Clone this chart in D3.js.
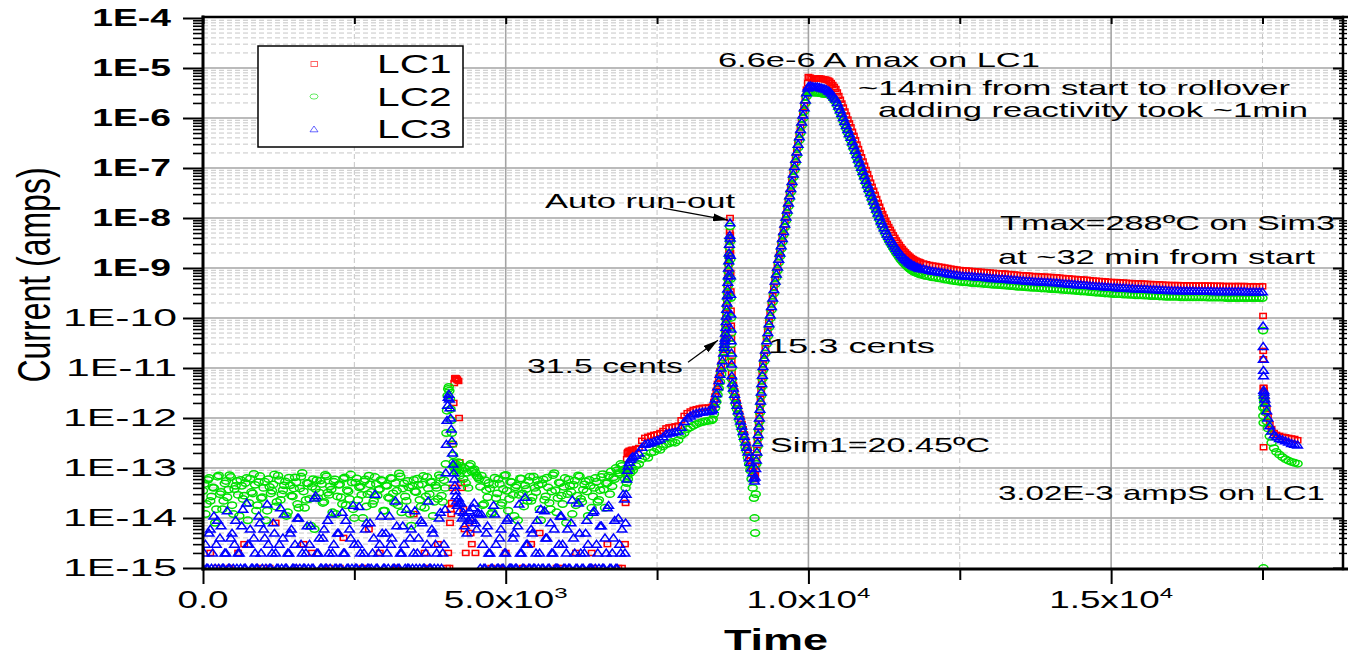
<!DOCTYPE html>
<html>
<head>
<meta charset="utf-8">
<title>Linear channel currents vs time</title>
<script src="https://cdn.jsdelivr.net/npm/d3@7/dist/d3.min.js"></script>
<style>
  html, body { margin: 0; padding: 0; background: #fff; }
  svg { display: block; }
  text { font-family: "Liberation Sans", Arial, Helvetica, sans-serif; fill: #000; }
</style>
</head>
<body>
<svg id="chart" width="1348" height="658"></svg>
<script>
// Logged samples, one row per reading: [time (s), LC1 (A), LC2 (A), LC3 (A)].
// Readings below 1E-15 A fall under the axis floor and are clipped away.

// quiet background before the first transient
const quietStart = [
  [0,5e-16,3.5e-14,1e-15],[40,5e-16,1.2e-14,3e-15],[80,5e-16,5.8e-14,1e-15],[120,2e-15,2.2e-14,6e-15],[160,5e-16,4.1e-14,2e-15],
  [200,5e-16,8e-15,1e-15],[240,5e-16,6.7e-14,9e-15],[280,5e-16,3e-14,4e-15],[320,5e-16,1.5e-14,1e-15],[360,5e-16,4.9e-14,2e-15],
  [400,5e-16,2.6e-14,1.4e-14],[440,1e-15,7.2e-14,1e-15],[480,5e-16,1.8e-14,5e-15],[520,5e-16,3.8e-14,3e-15],[560,5e-16,5.5e-14,1e-15],
  [600,5e-16,1.1e-14,2e-15],[640,5e-16,4.4e-14,7e-15],[680,3e-15,2.8e-14,1e-15],[720,5e-16,6.3e-14,2e-14],[760,5e-16,2e-14,3e-15],
  [800,5e-16,3.3e-14,1e-15],[840,5e-16,7.6e-14,4e-15],[880,5e-16,1.4e-14,1e-15],[920,5e-16,5.2e-14,1.1e-14],[960,1e-15,2.5e-14,2e-15],
  [1000,5e-16,4e-14,6e-15],[1040,5e-16,9e-15,1e-15],[1080,5e-16,6e-14,3e-15],[1120,5e-16,3.1e-14,1e-15],[1160,5e-16,4.7e-14,8e-15],
  [1200,8e-15,1.7e-14,2e-15],[1240,5e-16,7e-14,1e-15],[1280,5e-16,2.3e-14,1.6e-14],[1320,5e-16,3.6e-14,4e-15],[1360,5e-16,5.4e-14,1e-15],
  [1400,5e-16,1.3e-14,2e-15],[1440,5e-16,4.5e-14,5e-15],[1480,5e-16,2.7e-14,1e-15],[1520,1e-15,6.5e-14,3e-15],[1560,5e-16,1.9e-14,1e-14],
  [1600,5e-16,3.9e-14,1e-15],[1640,5e-16,8e-14,2e-15],[1680,5e-16,1.6e-14,1e-15],[1720,5e-16,5e-14,7e-15],[1760,5e-16,2.4e-14,3e-15],
  [1800,2e-15,4.2e-14,1e-15],[1840,5e-16,6e-15,2.5e-14],[1880,5e-16,5.7e-14,2e-15],[1920,5e-16,3.2e-14,4e-15],[1960,5e-16,4.8e-14,1e-15],
  [2000,5e-16,2.1e-14,6e-15],[2040,5e-16,6.8e-14,1e-15],[2080,1e-15,2.9e-14,2e-15],[2120,5e-16,3.7e-14,1.2e-14],[2160,5e-16,5.3e-14,3e-15],
  [2200,5e-16,1.2e-14,1e-15],[2240,5e-16,4.6e-14,5e-15],[2280,5e-16,2.6e-14,1e-15],[2320,4e-15,6.1e-14,2e-15],[2360,5e-16,1.8e-14,9e-15],
  [2400,5e-16,3.4e-14,1e-15],[2440,5e-16,7.4e-14,4e-15],[2480,5e-16,1.5e-14,1.8e-14],[2520,5e-16,5.1e-14,1e-15],[2560,5e-16,2.3e-14,3e-15],
  [2600,5e-16,4.3e-14,2e-15],[2640,1e-15,1e-14,1e-15],[2680,5e-16,5.9e-14,6e-15],[2720,5e-16,3e-14,1e-15],[2760,5e-16,4.7e-14,8e-15],
  [2800,5e-16,1.9e-14,2e-15],[2840,5e-16,6.6e-14,3e-14],[2880,5e-16,2.8e-14,1e-15],[2920,2e-15,3.8e-14,3e-15],[2960,5e-16,5.6e-14,5e-15],
  [3000,5e-16,1.4e-14,1e-15],[3040,5e-16,4.4e-14,2e-15],[3080,5e-16,2.5e-14,1.1e-14],[3120,5e-16,6.2e-14,4e-15],[3160,5e-16,2e-14,1e-15],
  [3200,1e-15,3.5e-14,7e-15],[3240,5e-16,7.8e-14,1e-15],[3280,5e-16,1.3e-14,2e-15],[3320,5e-16,4.9e-14,3e-15],[3360,5e-16,2.2e-14,1.5e-14],
  [3400,5e-16,4.1e-14,1e-15],[3440,5e-16,7e-15,6e-15],[3480,1.2e-14,5.8e-14,2e-15],[3520,5e-16,3.3e-14,1e-15],[3560,5e-16,4.6e-14,4e-15],
  [3600,5e-16,1.7e-14,9e-15],[3640,5e-16,6.9e-14,1e-15],[3680,5e-16,2.7e-14,2e-15],[3720,1e-15,3.9e-14,2.2e-14],[3760,5e-16,5.2e-14,1e-15],
  [3800,5e-16,1.1e-14,5e-15],[3840,5e-16,4.5e-14,3e-15],[3880,3e-15,2.4e-14,1e-15],[3920,5e-16,6.4e-14,1.3e-14],[3960,5e-16,2.1e-14,2e-15],
  [20,5e-16,4.8e-14,2e-15],[60,5e-16,1.9e-14,1e-15],[100,5e-16,6.3e-14,5e-15],[140,5e-16,2.7e-14,1e-15],[180,5e-16,4e-14,1.1e-14],
  [220,1e-15,1.5e-14,3e-15],[260,5e-16,7.1e-14,1e-15],[300,5e-16,3.3e-14,7e-15],[340,5e-16,2.2e-14,1e-15],[380,5e-16,5.5e-14,2e-15],
  [420,5e-16,3.7e-14,1e-15],[460,5e-16,6.6e-14,4e-15],[500,5e-16,1.2e-14,1e-15],[540,5e-16,4.4e-14,9e-15],[580,2e-15,2.9e-14,2e-15],
  [620,5e-16,5.8e-14,1e-15],[660,5e-16,2.4e-14,1.5e-14],[700,5e-16,5e-14,1e-15],[740,5e-16,9e-15,3e-15],[780,5e-16,6.1e-14,6e-15],
  [820,5e-16,3.1e-14,1e-15],[860,5e-16,4.6e-14,2e-15],[900,5e-16,1.8e-14,1e-15],[940,5e-16,6.9e-14,8e-15],[980,5e-16,2.6e-14,1e-15],
  [1020,5e-16,5.3e-14,4e-15],[1060,5e-16,1.4e-14,1.9e-14],[1100,1e-15,4.2e-14,1e-15],[1140,5e-16,3.5e-14,2e-15],[1180,5e-16,7.4e-14,5e-15],
  [1220,5e-16,2.1e-14,1e-15],[1260,5e-16,5.7e-14,3e-15],[1300,5e-16,3e-14,1e-15],[1340,5e-16,4.5e-14,1.2e-14],[1380,5e-16,1.1e-14,1e-15],
  [1420,5e-16,6.4e-14,2e-15],[1460,5e-16,2.8e-14,6e-15],[1500,5e-16,3.9e-14,1e-15],[1540,5e-16,5.2e-14,1e-15],[1580,5e-16,1.6e-14,1e-14],
  [1620,5e-16,6.7e-14,3e-15],[1660,3e-15,3.4e-14,1e-15],[1700,5e-16,2.3e-14,2e-15],[1740,5e-16,4.9e-14,1e-15],[1780,5e-16,7e-15,7e-15],
  [1820,5e-16,6e-14,1e-15],[1860,5e-16,3.8e-14,2.8e-14],[1900,5e-16,2.5e-14,2e-15],[1940,5e-16,5.6e-14,1e-15],[1980,5e-16,2e-14,4e-15],
  [2020,5e-16,7.3e-14,1e-15],[2060,5e-16,3.2e-14,9e-15],[2100,5e-16,4.3e-14,1e-15],[2140,5e-16,1.3e-14,2e-15],[2180,5e-16,5.9e-14,1e-15],
  [2220,5e-16,2.7e-14,5e-15],[2260,1e-15,4.7e-14,1e-15],[2300,5e-16,1.9e-14,1.3e-14],[2340,5e-16,6.5e-14,2e-15],[2380,5e-16,3.6e-14,1e-15],
  [2420,5e-16,2.4e-14,6e-15],[2460,5e-16,5.1e-14,1e-15],[2500,5e-16,1e-14,3e-15],[2540,5e-16,6.2e-14,1e-15],[2580,5e-16,4.1e-14,1.7e-14],
  [2620,5e-16,2.9e-14,1e-15],[2660,5e-16,5.4e-14,2e-15],[2700,5e-16,1.7e-14,8e-15],[2740,6e-15,7e-14,1e-15],[2780,5e-16,3.3e-14,1e-15],
  [2820,5e-16,2.2e-14,4e-15],[2860,5e-16,4.8e-14,1e-15],[2900,5e-16,3.7e-14,2e-15],[2940,5e-16,5.8e-14,1.1e-14],[2980,5e-16,1.4e-14,1e-15],
  [3020,5e-16,4.5e-14,5e-15],[3060,5e-16,2.6e-14,1e-15],[3100,5e-16,6.3e-14,3e-15],[3140,5e-16,3.1e-14,1e-15],[3180,1e-15,5e-14,2.2e-14],
  [3220,5e-16,1.8e-14,1e-15],[3260,5e-16,6.8e-14,2e-15],[3300,5e-16,3.9e-14,7e-15],[3340,5e-16,2.7e-14,1e-15],[3380,5e-16,5.5e-14,1e-15],
  [3420,5e-16,1.2e-14,4e-15],[3460,5e-16,4.4e-14,1e-15],[3500,5e-16,3.4e-14,1.4e-14],[3540,5e-16,6.1e-14,2e-15],[3580,5e-16,2.3e-14,1e-15],
  [3620,5e-16,4.7e-14,8e-15],[3660,2e-15,1.6e-14,1e-15],[3700,5e-16,6.6e-14,3e-15],[3740,5e-16,3e-14,1e-15],[3780,5e-16,5.3e-14,6e-15],
  [3820,5e-16,2.1e-14,1e-15],[3860,5e-16,4e-14,2e-15],[3900,5e-16,7.2e-14,1e-14],[3940,5e-16,2.8e-14,1e-15],[3980,5e-16,5.7e-14,3e-15]
];

// short transient near t = 4000 s
const firstTransient = [
  [4000,5e-16,4e-14,1.5e-14],[4010,5e-16,1.2e-13,8e-14],[4020,5e-16,5e-13,3e-13],[4030,1e-15,1.4e-12,9e-13],[4040,5e-16,2.8e-12,1.8e-12],
  [4050,2e-15,3.8e-12,2.6e-12],[4060,5e-16,4.2e-12,3e-12],[4070,1e-15,3.5e-12,2.4e-12],[4080,8e-15,2.4e-12,1.6e-12],[4090,1.5e-14,1.5e-12,1e-12],
  [4100,1.2e-14,9e-13,6e-13],[4110,2e-14,5e-13,3.5e-13],[4120,4e-14,3e-13,2e-13],[4130,3e-13,1.8e-13,1.2e-13],[4140,2e-12,1.3e-13,8e-14],
  [4150,5e-12,1e-13,6e-14],[4160,6.2e-12,1.1e-13,4.5e-14],[4170,6.3e-12,9e-14,3.5e-14],[4180,6.2e-12,1.2e-13,2.8e-14],[4190,6e-12,8e-14,2.2e-14],
  [4200,5.8e-12,1e-13,1.8e-14],[4220,5.5e-12,1.3e-13,2.5e-14],[4230,1e-12,9e-14,2e-14],[4240,1.3e-13,7e-14,1.4e-14],[4260,5e-14,1.1e-13,2e-14],
  [4280,4e-14,9e-14,1e-14],[4300,1.5e-14,6e-14,1.3e-14],[4320,6e-15,1e-13,7e-15],[4340,2e-15,5e-14,1.1e-14],[4360,5e-16,8e-14,5e-15],
  [4380,5e-16,4e-14,9e-15]
];

// quiet background between the transient and the first reactivity step
const quietMid = [
  [4400,8e-15,1.1e-13,1.4e-14],[4440,3e-15,8.5e-14,9e-15],[4480,5e-16,9.5e-14,2e-14],[4520,5e-16,7e-14,6e-15],[4560,5e-16,6e-14,1.2e-14],
  [4600,5e-16,7e-14,1.2e-14],[4640,5e-16,1.9e-14,1e-15],[4680,5e-16,3.6e-14,5e-15],[4720,5e-16,5e-14,2e-15],[4760,1e-15,1.2e-14,1e-15],
  [4800,5e-16,4.7e-14,1.8e-14],[4840,5e-16,2.5e-14,3e-15],[4880,5e-16,6e-14,1e-15],[4920,5e-16,1.8e-14,6e-15],[4960,5e-16,3.8e-14,1e-15],
  [5000,2e-15,7.3e-14,2e-15],[5040,5e-16,1.4e-14,1e-14],[5080,5e-16,5.3e-14,1e-15],[5120,5e-16,2.9e-14,4e-15],[5160,5e-16,4.1e-14,1e-15],
  [5200,5e-16,9e-15,7e-15],[5240,5e-16,6.2e-14,2e-15],[5280,1e-15,3.1e-14,1e-15],[5320,5e-16,4.5e-14,2.6e-14],[5360,5e-16,2.2e-14,3e-15],
  [5400,5e-16,6.7e-14,1e-15],[5440,5e-16,2.6e-14,5e-15],[5480,5e-16,4e-14,1e-15],[5520,5e-16,5.7e-14,9e-15],[5560,5e-15,1.5e-14,2e-15],
  [5600,5e-16,4.8e-14,1e-15],[5640,5e-16,2.3e-14,1.4e-14],[5680,5e-16,6.4e-14,4e-15],[5720,5e-16,2e-14,1e-15],[5760,5e-16,3.4e-14,2e-15],
  [5800,5e-16,7.9e-14,6e-15],[5840,1e-15,1.3e-14,1e-15],[5880,5e-16,5.1e-14,3e-15],[5920,5e-16,2.8e-14,1.1e-14],[5960,5e-16,4.2e-14,1e-15],
  [6000,5e-16,8e-15,2e-15],[6040,5e-16,5.9e-14,1e-15],[6080,5e-16,3.3e-14,8e-15],[6120,5e-16,4.6e-14,4e-15],[6160,2e-15,1.8e-14,1e-15],
  [6200,5e-16,7.1e-14,2e-14],[6240,5e-16,2.4e-14,2e-15],[6280,5e-16,3.7e-14,1e-15],[6320,5e-16,5.4e-14,5e-15],[6360,5e-16,1.1e-14,3e-15],
  [6400,5e-16,4.4e-14,1e-15],[6440,1e-15,2.7e-14,1.3e-14],[6480,5e-16,6.3e-14,1e-15],[6520,5e-16,2.1e-14,2e-15],[6560,5e-16,3.6e-14,7e-15],
  [6600,5e-16,7.5e-14,1e-15],[6640,5e-16,1.6e-14,4e-15],[6680,3e-15,5e-14,1.6e-14],[6720,5e-16,3e-14,1e-15],[6760,5e-16,4.3e-14,2e-15],
  [6800,5e-16,6e-14,9e-15],[6840,5e-16,9e-14,1e-15],[6880,5e-16,7.5e-14,3e-15],[6920,1e-15,1.1e-13,6e-15],[6960,5e-16,9.5e-14,2.4e-14],
  [4420,5e-15,1.2e-13,1e-14],[4460,5e-16,9e-14,1.6e-14],[4500,2e-15,8e-14,8e-15],[4540,5e-16,6.5e-14,1.3e-14],[4580,5e-16,4.2e-14,1e-15],
  [4620,5e-16,1.8e-14,3e-15],[4660,5e-16,5.7e-14,1e-15],[4700,5e-16,2.6e-14,7e-15],[4740,5e-16,3.9e-14,2e-15],[4780,5e-16,1.3e-14,1e-15],
  [4820,5e-16,6.4e-14,1.2e-14],[4860,5e-16,3.1e-14,1e-15],[4900,1e-15,4.8e-14,4e-15],[4940,5e-16,2e-14,1e-15],[4980,5e-16,7e-14,2e-15],
  [5020,5e-16,3.5e-14,9e-15],[5060,5e-16,2.4e-14,1e-15],[5100,5e-16,5.2e-14,1e-15],[5140,5e-16,1.1e-14,5e-15],[5180,5e-16,4.5e-14,1e-15],
  [5220,5e-16,2.9e-14,1.9e-14],[5260,5e-16,6.1e-14,2e-15],[5300,5e-16,1.7e-14,1e-15],[5340,5e-16,3.8e-14,3e-15],[5380,5e-16,5.5e-14,1e-15],
  [5420,3e-15,2.2e-14,6e-15],[5460,5e-16,6.7e-14,1e-15],[5500,5e-16,3.3e-14,2e-15],[5540,5e-16,4.6e-14,1e-15],[5580,5e-16,9e-15,1.5e-14],
  [5620,5e-16,5.9e-14,1e-15],[5660,5e-16,2.7e-14,4e-15],[5700,5e-16,4.1e-14,1e-15],[5740,5e-16,1.5e-14,8e-15],[5780,5e-16,7.2e-14,2e-15],
  [5820,5e-16,3.6e-14,1e-15],[5860,5e-16,2.5e-14,1e-15],[5900,5e-16,5e-14,1.1e-14],[5940,1e-15,1.9e-14,3e-15],[5980,5e-16,6.3e-14,1e-15],
  [6020,5e-16,3e-14,6e-15],[6060,5e-16,4.4e-14,1e-15],[6100,5e-16,1.2e-14,2.3e-14],[6140,5e-16,5.6e-14,2e-15],[6180,5e-16,2.8e-14,1e-15],
  [6220,5e-16,6.8e-14,5e-15],[6260,5e-16,2.1e-14,1e-15],[6300,5e-16,4.7e-14,2e-15],[6340,5e-16,3.4e-14,9e-15],[6380,5e-16,5.8e-14,1e-15],
  [6420,2e-15,1.6e-14,1e-15],[6460,5e-16,4e-14,1.4e-14],[6500,5e-16,5.3e-14,3e-15],[6540,5e-16,2.3e-14,1e-15],[6580,5e-16,6.6e-14,7e-15],
  [6620,5e-16,3.7e-14,1e-15],[6660,5e-16,4.9e-14,2e-15],[6700,5e-16,7e-14,1.8e-14],[6740,5e-16,8.5e-14,1e-15],[6780,5e-16,6.5e-14,4e-15],
  [6820,5e-16,1e-13,1e-15],[6860,1e-15,8e-14,1e-14],[6900,5e-16,1.2e-13,2e-15],[6940,5e-16,9e-14,3e-14]
];

// stepwise reactivity additions
const stepUp = [
  [6970,3e-15,6e-14,2e-15],[6980,2e-14,4e-14,8e-15],[6990,8e-14,8e-14,3e-14],[7000,1.5e-13,5e-14,6e-14],[7010,2e-13,7e-14,9e-14],
  [7020,2.1e-13,6e-14,1.1e-13],[7040,2.2e-13,9e-14,1.3e-13],[7060,2.2e-13,8e-14,1.5e-13],[7080,2.3e-13,1e-13,1.6e-13],[7100,2.3e-13,9e-14,1.7e-13],
  [7150,2.4e-13,1.1e-13,1.8e-13],[7200,2.5e-13,1.2e-13,2e-13],[7250,3.5e-13,1.5e-13,2.6e-13],[7300,4e-13,1.7e-13,3e-13],[7350,4.2e-13,1.6e-13,3.1e-13],
  [7400,4.4e-13,2e-13,3.2e-13],[7450,4.6e-13,2.1e-13,3.4e-13],[7500,4.7e-13,2.4e-13,3.6e-13],[7550,5e-13,2.3e-13,3.8e-13],[7600,5.5e-13,2.7e-13,4.2e-13],
  [7650,6.2e-13,3e-13,4.8e-13],[7700,6.5e-13,3.1e-13,5e-13],[7750,6.6e-13,3.3e-13,5.1e-13],[7800,6.8e-13,3.2e-13,5.3e-13],[7850,7e-13,3.6e-13,5.5e-13],
  [7900,9e-13,4.5e-13,6.5e-13],[7950,1.1e-12,5e-13,8.5e-13],[8000,1.25e-12,6e-13,1e-12],[8050,1.35e-12,6.5e-13,1.1e-12],[8100,1.45e-12,7e-13,1.2e-12],
  [8150,1.5e-12,7.5e-13,1.25e-12],[8200,1.55e-12,8e-13,1.3e-12],[8250,1.6e-12,8.3e-13,1.32e-12],[8300,1.6e-12,8.6e-13,1.35e-12],[8350,1.62e-12,8.8e-13,1.37e-12],
  [8400,1.65e-12,9e-13,1.4e-12]
];

// 31.5 cent insertion and automatic run-out
const runOut = [
  [8420,1.7e-12,9.5e-13,1.5e-12],[8440,2.1e-12,1.2e-12,1.9e-12],[8460,2.7e-12,1.6e-12,2.4e-12],[8480,3.5e-12,2.1e-12,3.1e-12],
  [8500,4.8e-12,2.9e-12,4.2e-12],[8520,6.4e-12,3.9e-12,5.6e-12],[8540,8.6e-12,5.3e-12,7.5e-12],[8560,1.15e-11,7.5e-12,1e-11],
  [8580,1.6e-11,1.1e-11,1.4e-11],[8600,2.3e-11,1.6e-11,2e-11],[8610,3e-11,2.1e-11,2.6e-11],[8615,3.5e-11,2.5e-11,3e-11],
  [8620,4e-11,3e-11,3.5e-11],[8625,4.6e-11,3.4e-11,4e-11],[8630,5.8e-11,4.3e-11,5e-11],[8635,7.5e-11,5.5e-11,6.5e-11],
  [8640,9.8e-11,7.2e-11,8.5e-11],[8645,1.25e-10,9.4e-11,1.1e-10],[8650,1.7e-10,1.3e-10,1.5e-10],[8655,2.3e-10,1.7e-10,2e-10],
  [8660,3.2e-10,2.4e-10,2.8e-10],[8665,4.4e-10,3.2e-10,3.8e-10],[8670,6e-10,4.4e-10,5.2e-10],[8675,8e-10,6e-10,7e-10],
  [8680,1.15e-9,8.5e-10,1e-9],[8685,1.6e-9,1.2e-9,1.4e-9],[8690,2.3e-9,1.7e-9,2e-9],[8695,3.4e-9,2.6e-9,3e-9],
  [8700,5.2e-9,3.8e-9,4.5e-9],[8705,1e-8,6.8e-9,8e-9],[8708,4.6e-9,3.4e-9,4e-9],[8711,2e-9,1.5e-9,1.8e-9],
  [8714,8e-10,6e-10,7e-10],[8717,3.4e-10,2.5e-10,3e-10],[8720,1.4e-10,1e-10,1.2e-10],[8723,7e-11,5e-11,6e-11],
  [8726,4e-11,3e-11,3.5e-11],[8729,2.3e-11,1.7e-11,2e-11],[8732,1.4e-11,1e-11,1.2e-11],[8735,8e-12,6e-12,7e-12],
  [8745,5.7e-12,4.3e-12,5e-12],[8760,4.5e-12,3.4e-12,4e-12],[8780,3.4e-12,2.5e-12,3e-12],[8800,2.6e-12,1.9e-12,2.3e-12]
];

// decay after the run-out
const dip = [
  [8820,2e-12,1.5e-12,1.8e-12],[8840,1.55e-12,1.2e-12,1.4e-12],[8860,1.2e-12,9e-13,1.1e-12],[8880,9.5e-13,7e-13,8.7e-13],
  [8900,7.6e-13,5.8e-13,6.9e-13],[8920,6e-13,4.4e-13,5.4e-13],[8940,4.7e-13,3.6e-13,4.3e-13],[8960,3.6e-13,2.6e-13,3.3e-13],
  [8980,2.9e-13,2.2e-13,2.6e-13],[9000,2.3e-13,1.6e-13,2.1e-13],[9020,1.8e-13,1.2e-13,1.6e-13],[9040,1.4e-13,9e-14,1.3e-13],
  [9060,1.1e-13,6e-14,1e-13],[9080,8.8e-14,4e-14,8e-14],[9100,7e-14,2.5e-14,6.3e-14]
];

// 15.3 cent insertion: power rise to rollover
const rise = [
  [9110,6e-14,1e-14,5.5e-14],[9120,7.3e-14,5e-15,6.6e-14],[9130,1.08e-13,3e-14,9.8e-14],[9140,1.6e-13,1.2e-13,1.45e-13],
  [9150,2.3e-13,1.8e-13,2.1e-13],[9160,3.5e-13,2.7e-13,3.2e-13],[9170,5.2e-13,4e-13,4.7e-13],[9180,7.6e-13,5.9e-13,6.9e-13],
  [9190,1.1e-12,8.5e-13,1e-12],[9200,1.65e-12,1.28e-12,1.5e-12],[9210,2.4e-12,1.9e-12,2.2e-12],[9220,3.6e-12,2.8e-12,3.3e-12],
  [9230,5.4e-12,4.2e-12,4.9e-12],[9240,7.9e-12,6.1e-12,7.2e-12],[9250,1.18e-11,9.1e-12,1.07e-11],[9270,1.76e-11,1.36e-11,1.6e-11],
  [9290,2.5e-11,1.95e-11,2.3e-11],[9310,3.9e-11,3e-11,3.5e-11],[9330,5.6e-11,4.3e-11,5.1e-11],[9350,8.5e-11,6.5e-11,7.7e-11],
  [9370,1.27e-10,9.8e-11,1.15e-10],[9390,1.87e-10,1.45e-10,1.7e-10],[9410,2.75e-10,2.1e-10,2.5e-10],[9430,4.1e-10,3.1e-10,3.7e-10],
  [9450,6e-10,4.7e-10,5.5e-10],[9470,8.4e-10,6.5e-10,7.6e-10],[9490,1.16e-9,8.9e-10,1.05e-9],[9510,1.65e-9,1.28e-9,1.5e-9],
  [9530,2.2e-9,1.7e-9,2e-9],[9550,3.1e-9,2.4e-9,2.8e-9],[9570,4.3e-9,3.3e-9,3.9e-9],[9590,5.9e-9,4.6e-9,5.4e-9],
  [9610,8.4e-9,6.5e-9,7.6e-9],[9630,1.16e-8,8.9e-9,1.05e-8],[9650,1.6e-8,1.23e-8,1.45e-8],[9670,2.2e-8,1.7e-8,2e-8],
  [9690,3.1e-8,2.4e-8,2.8e-8],[9710,4.3e-8,3.3e-8,3.9e-8],[9730,5.9e-8,4.6e-8,5.4e-8],[9750,8.4e-8,6.5e-8,7.6e-8],
  [9770,1.18e-7,9.1e-8,1.07e-7],[9790,1.65e-7,1.28e-7,1.5e-7],[9810,2.3e-7,1.8e-7,2.1e-7],[9830,3.3e-7,2.55e-7,3e-7],
  [9850,4.6e-7,3.6e-7,4.2e-7],[9870,6.5e-7,5e-7,5.9e-7],[9890,9.1e-7,7.1e-7,8.3e-7],[9910,1.3e-6,9.8e-7,1.15e-6],
  [9930,1.8e-6,1.36e-6,1.6e-6],[9950,2.6e-6,1.95e-6,2.3e-6],[9970,3.7e-6,2.7e-6,3.2e-6],[9990,5e-6,3.1e-6,4e-6]
];

// rollover
const peak = [
  [10000,6.6e-6,3.3e-6,4.3e-6],[10030,6.4e-6,3.4e-6,4.4e-6],[10060,6.1e-6,3.3e-6,4.3e-6],[10090,6e-6,3.2e-6,4.2e-6],
  [10120,6.1e-6,3.2e-6,4.2e-6],[10150,6.2e-6,3.2e-6,4.2e-6],[10180,6.2e-6,3.15e-6,4.1e-6],[10210,6.1e-6,3.1e-6,4e-6],
  [10240,6e-6,3.05e-6,3.9e-6],[10270,5.9e-6,3e-6,3.85e-6],[10300,5.8e-6,3e-6,3.7e-6],[10330,5.6e-6,2.98e-6,3.5e-6]
];

// temperature feedback: fall after the rollover
const fall = [
  [10350,5.37e-6,2.95e-6,3.39e-6],[10375,5e-6,2.75e-6,3.16e-6],[10400,4.57e-6,2.5e-6,2.88e-6],[10425,4.17e-6,2.3e-6,2.63e-6],
  [10450,3.8e-6,2.1e-6,2.4e-6],[10475,3.24e-6,1.78e-6,2.04e-6],[10500,2.75e-6,1.51e-6,1.74e-6],[10525,2.32e-6,1.28e-6,1.46e-6],
  [10550,1.95e-6,1.07e-6,1.23e-6],[10575,1.62e-6,8.9e-7,1.02e-6],[10600,1.35e-6,7.4e-7,8.5e-7],[10625,1.12e-6,6.2e-7,7.1e-7],
  [10650,9.3e-7,5.1e-7,5.9e-7],[10675,7.8e-7,4.3e-7,4.9e-7],[10700,6.5e-7,3.6e-7,4.1e-7],[10725,5.3e-7,2.9e-7,3.35e-7],
  [10750,4.4e-7,2.4e-7,2.78e-7],[10775,3.6e-7,2e-7,2.27e-7],[10800,2.95e-7,1.62e-7,1.86e-7],[10825,2.4e-7,1.32e-7,1.51e-7],
  [10850,2e-7,1.1e-7,1.26e-7],[10875,1.64e-7,9e-8,1.03e-7],[10900,1.35e-7,7.4e-8,8.5e-8],[10925,1.11e-7,6.1e-8,7e-8],
  [10950,9.1e-8,5e-8,5.7e-8],[10975,7.5e-8,4.1e-8,4.7e-8],[11000,6.2e-8,3.4e-8,3.9e-8],[11025,5.1e-8,2.8e-8,3.2e-8],
  [11050,4.2e-8,2.3e-8,2.65e-8],[11075,3.5e-8,1.93e-8,2.2e-8],[11100,2.9e-8,1.6e-8,1.83e-8],[11125,2.4e-8,1.32e-8,1.51e-8],
  [11150,2e-8,1.1e-8,1.26e-8],[11175,1.68e-8,9.2e-9,1.06e-8],[11200,1.4e-8,7.7e-9,8.8e-9],[11225,1.2e-8,6.6e-9,7.6e-9],
  [11250,1.02e-8,5.6e-9,6.4e-9],[11275,8.8e-9,4.8e-9,5.6e-9],[11300,7.6e-9,4.2e-9,4.8e-9],[11325,6.6e-9,3.65e-9,4.3e-9],
  [11350,5.8e-9,3.2e-9,3.8e-9],[11375,5.1e-9,2.82e-9,3.4e-9],[11400,4.5e-9,2.5e-9,3.06e-9],[11425,4e-9,2.23e-9,2.76e-9],
  [11450,3.55e-9,2e-9,2.49e-9],[11475,3.2e-9,1.8e-9,2.24e-9],[11500,2.9e-9,1.63e-9,2.06e-9],[11525,2.6e-9,1.47e-9,1.87e-9],
  [11550,2.4e-9,1.36e-9,1.73e-9],[11575,2.2e-9,1.25e-9,1.6e-9],[11600,2.05e-9,1.17e-9,1.5e-9],[11625,1.9e-9,1.09e-9,1.41e-9],
  [11650,1.78e-9,1.02e-9,1.32e-9],[11675,1.68e-9,9.6e-10,1.26e-9],[11700,1.58e-9,9.1e-10,1.19e-9],[11725,1.51e-9,8.7e-10,1.13e-9],
  [11750,1.45e-9,8.3e-10,1.1e-9],[11775,1.4e-9,8.1e-10,1.06e-9],[11800,1.35e-9,7.8e-10,1.03e-9],[11825,1.32e-9,7.6e-10,1e-9],
  [11850,1.29e-9,7.4e-10,9.8e-10]
];

// slow settling at the new power level
const plateau = [
  [11900,1.23e-9,7.1e-10,9.6e-10],[11950,1.19e-9,6.9e-10,9.3e-10],[12000,1.15e-9,6.7e-10,9e-10],[12050,1.12e-9,6.5e-10,8.7e-10],
  [12100,1.1e-9,6.4e-10,8.6e-10],[12150,1.07e-9,6.2e-10,8.3e-10],[12200,1.05e-9,6.1e-10,8.2e-10],[12250,1.02e-9,5.9e-10,8e-10],
  [12300,1e-9,5.8e-10,7.8e-10],[12350,9.7e-10,5.6e-10,7.6e-10],[12400,9.5e-10,5.5e-10,7.4e-10],[12450,9.3e-10,5.4e-10,7.3e-10],
  [12500,9.1e-10,5.3e-10,7.1e-10],[12550,9e-10,5.2e-10,7e-10],[12600,8.9e-10,5.2e-10,6.9e-10],[12650,8.8e-10,5.1e-10,6.9e-10],
  [12700,8.7e-10,5e-10,6.8e-10],[12750,8.6e-10,5e-10,6.7e-10],[12800,8.5e-10,4.9e-10,6.6e-10],[12850,8.4e-10,4.9e-10,6.6e-10],
  [12900,8.3e-10,4.8e-10,6.5e-10],[12950,8.2e-10,4.75e-10,6.4e-10],[13000,8.1e-10,4.7e-10,6.3e-10],[13050,8e-10,4.6e-10,6.2e-10],
  [13100,7.9e-10,4.6e-10,6.2e-10],[13150,7.85e-10,4.55e-10,6.1e-10],[13200,7.8e-10,4.5e-10,6.1e-10],[13250,7.7e-10,4.45e-10,6e-10],
  [13300,7.6e-10,4.4e-10,5.9e-10],[13350,7.5e-10,4.35e-10,5.85e-10],[13400,7.4e-10,4.3e-10,5.8e-10],[13450,7.3e-10,4.2e-10,5.7e-10],
  [13500,7.2e-10,4.2e-10,5.6e-10],[13550,7.15e-10,4.15e-10,5.6e-10],[13600,7.1e-10,4.1e-10,5.5e-10],[13650,7e-10,4.05e-10,5.5e-10],
  [13700,6.9e-10,4e-10,5.4e-10],[13750,6.85e-10,4e-10,5.35e-10],[13800,6.8e-10,3.95e-10,5.3e-10],[13850,6.75e-10,3.9e-10,5.3e-10],
  [13900,6.7e-10,3.9e-10,5.2e-10],[13950,6.65e-10,3.85e-10,5.2e-10],[14000,6.6e-10,3.8e-10,5.15e-10],[14050,6.55e-10,3.8e-10,5.1e-10],
  [14100,6.5e-10,3.75e-10,5.1e-10],[14150,6.4e-10,3.7e-10,5e-10],[14200,6.3e-10,3.65e-10,4.9e-10],[14250,6.25e-10,3.6e-10,4.9e-10],
  [14300,6.2e-10,3.6e-10,4.8e-10],[14350,6.1e-10,3.55e-10,4.75e-10],[14400,6e-10,3.5e-10,4.7e-10],[14450,5.95e-10,3.45e-10,4.65e-10],
  [14500,5.9e-10,3.4e-10,4.6e-10],[14550,5.85e-10,3.4e-10,4.55e-10],[14600,5.8e-10,3.35e-10,4.5e-10],[14650,5.7e-10,3.3e-10,4.45e-10],
  [14700,5.6e-10,3.25e-10,4.4e-10],[14750,5.55e-10,3.2e-10,4.3e-10],[14800,5.5e-10,3.2e-10,4.3e-10],[14850,5.45e-10,3.15e-10,4.25e-10],
  [14900,5.4e-10,3.1e-10,4.2e-10],[14950,5.3e-10,3.1e-10,4.15e-10],[15000,5.25e-10,3.05e-10,4.1e-10],[15050,5.22e-10,3e-10,4.1e-10],
  [15100,5.2e-10,3e-10,4.05e-10],[15150,5.15e-10,3e-10,4e-10],[15200,5.1e-10,2.95e-10,4e-10],[15250,5.05e-10,2.95e-10,3.95e-10],
  [15300,5e-10,2.9e-10,3.9e-10],[15350,4.97e-10,2.9e-10,3.9e-10],[15400,4.95e-10,2.85e-10,3.85e-10],[15450,4.92e-10,2.85e-10,3.85e-10],
  [15500,4.9e-10,2.85e-10,3.8e-10],[15550,4.85e-10,2.8e-10,3.8e-10],[15600,4.8e-10,2.8e-10,3.75e-10],[15650,4.77e-10,2.75e-10,3.7e-10],
  [15700,4.75e-10,2.75e-10,3.7e-10],[15750,4.72e-10,2.75e-10,3.7e-10],[15800,4.7e-10,2.7e-10,3.65e-10],[15850,4.65e-10,2.7e-10,3.6e-10],
  [15900,4.6e-10,2.65e-10,3.6e-10],[15950,4.57e-10,2.65e-10,3.55e-10],[16000,4.55e-10,2.65e-10,3.55e-10],[16050,4.55e-10,2.65e-10,3.55e-10],
  [16100,4.55e-10,2.65e-10,3.55e-10],[16150,4.52e-10,2.6e-10,3.5e-10],[16200,4.5e-10,2.6e-10,3.5e-10],[16250,4.5e-10,2.6e-10,3.5e-10],
  [16300,4.5e-10,2.6e-10,3.5e-10],[16350,4.47e-10,2.6e-10,3.5e-10],[16400,4.45e-10,2.6e-10,3.45e-10],[16450,4.45e-10,2.6e-10,3.45e-10],
  [16500,4.45e-10,2.6e-10,3.45e-10],[16550,4.45e-10,2.6e-10,3.45e-10],[16600,4.45e-10,2.55e-10,3.45e-10],[16650,4.42e-10,2.55e-10,3.45e-10],
  [16700,4.4e-10,2.55e-10,3.4e-10],[16750,4.4e-10,2.55e-10,3.4e-10],[16800,4.4e-10,2.55e-10,3.4e-10],[16850,4.37e-10,2.55e-10,3.4e-10],
  [16900,4.35e-10,2.5e-10,3.4e-10],[16950,4.35e-10,2.5e-10,3.4e-10],[17000,4.35e-10,2.5e-10,3.4e-10],[17050,4.35e-10,2.5e-10,3.4e-10],
  [17100,4.35e-10,2.5e-10,3.4e-10],[17150,4.35e-10,2.5e-10,3.4e-10],[17200,4.35e-10,2.5e-10,3.4e-10],[17250,4.32e-10,2.5e-10,3.35e-10],
  [17300,4.3e-10,2.5e-10,3.35e-10],[17350,4.3e-10,2.5e-10,3.35e-10],[17400,4.3e-10,2.5e-10,3.35e-10],[17450,4.3e-10,2.5e-10,3.35e-10],
  [17500,4.3e-10,2.5e-10,3.35e-10]
];

// shutdown
const shutdown = [
  [17510,1.1e-10,5.6e-11,7e-11],[17512,2.2e-11,1.6e-12,2.7e-11],[17514,1.5e-11,1.1e-12,1.5e-11],[17516,4e-12,1e-15,9e-12],
  [17518,2.6e-13,8e-13,7e-12],[17520,4e-12,2.6e-12,3.6e-12],[17525,3.5e-12,2.3e-12,3.3e-12],[17530,3.1e-12,2e-12,2.9e-12],
  [17540,2.6e-12,1.6e-12,2.4e-12],[17550,2.2e-12,1.3e-12,2e-12],[17570,1.5e-12,8.5e-13,1.4e-12],[17590,1.05e-12,6.2e-13,1e-12],
  [17620,7.5e-13,4.3e-13,7e-13],[17650,6e-13,3.2e-13,5.5e-13],[17690,5e-13,2.5e-13,4.6e-13],[17730,4.6e-13,2.1e-13,4.2e-13],
  [17780,4.4e-13,1.85e-13,3.9e-13],[17830,4.2e-13,1.65e-13,3.7e-13],[17880,4.1e-13,1.5e-13,3.5e-13],[17930,4e-13,1.4e-13,3.3e-13],
  [17980,3.9e-13,1.32e-13,3.1e-13],[18030,3.8e-13,1.27e-13,3e-13],[18080,3.6e-13,1.22e-13,2.9e-13]
];

const seriesNames = ["LC1", "LC2", "LC3"];
const yTickPowers = [-4, -5, -6, -7, -8, -9, -10, -11, -12, -13, -14, -15];
const xTickValues = [0, 5000, 10000, 15000];
const xTickMantissas = ["0.0", "5.0x10", "1.0x10", "1.5x10"];
const xTickExponents = ["", "3", "4", "4"];

// free text placed on the plot: anchor in data units (time, current)
const notes = [
  { text: "6.6e-6 A max on LC1",           t: 8506,  i: 1.05e-5, w: 322 },
  { text: "~14min from start to rollover", t: 10819, i: 2.9e-6,  w: 432 },
  { text: "adding reactivity took ~1min",  t: 11149, i: 1.05e-6, w: 430 },
  { text: "Auto run-out",                  t: 5649,  i: 1.58e-8, w: 190 },
  { text: "Tmax=288ºC on Sim3",            t: 13164, i: 5.75e-9, w: 335 },
  { text: "at ~32 min from start",         t: 13131, i: 1.2e-9,  w: 317 },
  { text: "31.5 cents",                    t: 5352,  i: 7.9e-12, w: 156 },
  { text: "15.3 cents",                    t: 9332,  i: 2e-11,   w: 167 },
  { text: "Sim1=20.45ºC",                  t: 9366,  i: 2.1e-13, w: 220 },
  { text: "3.02E-3 ampS on LC1",           t: 13131, i: 2.3e-14, w: 327 }
];
const arrows = [
  { from: [7598, 1.58e-8], to: [8672, 9.1e-9] },
  { from: [8011, 1.3e-11], to: [8506, 3.6e-11] }
];

// ---------------------------------------------------------------- drawing
const svg = d3.select("#chart");
const plotL = 203, plotR = 1343, plotT = 18, plotB = 568;
const x = d3.scaleLinear().domain([0, 18830]).range([plotL, plotR]);
const y = d3.scaleLog().domain([1e-15, 1e-4]).range([plotB, plotT]);

const rows = [quietStart, firstTransient, quietMid, stepUp, runOut, dip, rise, peak, fall, plateau, shutdown]
  .flat().sort((a, b) => a[0] - b[0]);

const decades = yTickPowers.map(p => Math.pow(10, p));
const minorY = [];
for (let p = -15; p < -4; p++) for (let m = 2; m <= 9; m++) minorY.push(m * Math.pow(10, p));
const allX = d3.range(0, 18830, 2500);
const minorX = allX.filter(v => v % 5000 !== 0);
const majorX = allX.filter(v => v % 5000 === 0 && v > 0);

const defs = svg.append("defs");
defs.append("clipPath").attr("id", "plotClip")
  .append("rect").attr("x", plotL).attr("y", plotT - 2).attr("width", plotR - plotL).attr("height", plotB - plotT + 3);
defs.append("marker").attr("id", "arrowHead")
  .attr("viewBox", "0 0 10 10").attr("refX", 10).attr("refY", 5)
  .attr("markerWidth", 15).attr("markerHeight", 8).attr("markerUnits", "userSpaceOnUse")
  .attr("preserveAspectRatio", "none").attr("orient", "auto")
  .append("path").attr("d", "M0,0 L10,5 L0,10 Z").attr("fill", "#000");

// grid
const grid = svg.append("g");
grid.selectAll("line.gym").data(minorY).join("line").attr("class", "gym")
  .attr("x1", plotL).attr("x2", plotR).attr("y1", d => y(d)).attr("y2", d => y(d))
  .attr("stroke", "#c6c6c6").attr("stroke-width", 1).attr("stroke-dasharray", "5,3");
grid.selectAll("line.gxm").data(minorX).join("line").attr("class", "gxm")
  .attr("x1", d => x(d)).attr("x2", d => x(d)).attr("y1", plotT).attr("y2", plotB)
  .attr("stroke", "#c6c6c6").attr("stroke-width", 1).attr("stroke-dasharray", "5,3");
grid.selectAll("line.gyM").data(decades.slice(1, -1)).join("line").attr("class", "gyM")
  .attr("x1", plotL).attr("x2", plotR).attr("y1", d => y(d)).attr("y2", d => y(d))
  .attr("stroke", "#a4a4a4").attr("stroke-width", 1.6);
grid.selectAll("line.gxM").data(majorX).join("line").attr("class", "gxM")
  .attr("x1", d => x(d)).attr("x2", d => x(d)).attr("y1", plotT).attr("y2", plotB)
  .attr("stroke", "#a4a4a4").attr("stroke-width", 1.6);

// markers (open symbols, drawn LC1 first so LC3 sits on top)
const shapes = {
  LC1: (g, pts) => g.selectAll("rect").data(pts).join("rect")
    .attr("x", d => x(d[0]) - 3.2).attr("y", d => y(d[1]) - 2.5).attr("width", 6.4).attr("height", 5),
  LC2: (g, pts) => g.selectAll("ellipse").data(pts).join("ellipse")
    .attr("cx", d => x(d[0])).attr("cy", d => y(d[1])).attr("rx", 4.5).attr("ry", 3.2),
  LC3: (g, pts) => g.selectAll("path").data(pts).join("path")
    .attr("d", d => { const cx = x(d[0]), cy = y(d[1]); return `M${cx - 4.8},${cy + 3} L${cx},${cy - 3.8} L${cx + 4.8},${cy + 3} Z`; })
};
const colors = { LC1: "#ff0000", LC2: "#00e000", LC3: "#0000ff" };

const plot = svg.append("g").attr("clip-path", "url(#plotClip)");
seriesNames.forEach((name, k) => {
  const pts = rows.map(r => [r[0], r[k + 1]]);
  const g = plot.append("g").attr("fill", "none").attr("stroke", colors[name]).attr("stroke-width", 1.5);
  shapes[name](g, pts);
});

// axes
const tickStyle = (g, w) => { g.select(".domain").remove(); g.selectAll("line").attr("stroke", "#000").attr("stroke-width", w); };
svg.append("g").attr("transform", `translate(${plotL},0)`)
  .call(d3.axisLeft(y).tickValues(minorY).tickSize(10).tickFormat("")).call(g => tickStyle(g, 1.6));
svg.append("g").attr("transform", `translate(${plotL},0)`)
  .call(d3.axisLeft(y).tickValues(decades).tickSize(20).tickFormat("")).call(g => tickStyle(g, 2));
svg.append("g").attr("transform", `translate(${plotR},0)`)
  .call(d3.axisLeft(y).tickValues(decades).tickSize(10).tickFormat("")).call(g => tickStyle(g, 2));
svg.append("g").attr("transform", `translate(${plotR},0)`)
  .call(d3.axisRight(y).tickValues(minorY).tickSize(4).tickFormat("")).call(g => tickStyle(g, 1.4));
svg.append("g").attr("transform", `translate(${plotR},0)`)
  .call(d3.axisLeft(y).tickValues(minorY).tickSize(4).tickFormat("")).call(g => tickStyle(g, 1.4));
svg.append("g").attr("transform", `translate(0,${plotB + 1})`)
  .call(d3.axisBottom(x).tickValues(xTickValues).tickSize(15).tickFormat("")).call(g => tickStyle(g, 2));
svg.append("g").attr("transform", `translate(0,${plotB + 1})`)
  .call(d3.axisBottom(x).tickValues(minorX).tickSize(11).tickFormat("")).call(g => tickStyle(g, 2));
svg.append("g").attr("transform", `translate(0,${plotT - 1})`)
  .call(d3.axisBottom(x).tickValues(allX).tickSize(7).tickFormat("")).call(g => tickStyle(g, 2));

const frame = svg.append("g").attr("stroke", "#000").attr("stroke-linecap", "square");
frame.append("line").attr("x1", plotL).attr("x2", plotL).attr("y1", plotT - 1).attr("y2", plotB + 1).attr("stroke-width", 3);
frame.append("line").attr("x1", plotL).attr("x2", 1348).attr("y1", plotB + 1).attr("y2", plotB + 1).attr("stroke-width", 3);
frame.append("line").attr("x1", plotL).attr("x2", 1348).attr("y1", plotT - 1).attr("y2", plotT - 1).attr("stroke-width", 2.5);
frame.append("line").attr("x1", plotR).attr("x2", plotR).attr("y1", plotT - 1).attr("y2", plotB + 1).attr("stroke-width", 2.5);

// text drawn with the wide aspect of the rest of the figure
function wideText(parent, px, py, sx, str, size, weight, anchor) {
  return parent.append("text")
    .attr("transform", `translate(${px},${py}) scale(${sx},1)`)
    .attr("font-size", size).attr("font-weight", weight || "normal")
    .attr("text-anchor", anchor || "start").text(str);
}

// y tick labels: upper decades bold, lower decades regular
yTickPowers.forEach(p => {
  const bold = p >= -9;
  wideText(svg, bold ? 171 : 177, y(Math.pow(10, p)) + 8, bold ? 1.62 : 1.82, `1E${p}`,
    bold ? 23 : 23.5, bold ? "bold" : "normal", "end");
});

// x tick labels
xTickValues.forEach((v, i) => {
  const t = svg.append("text")
    .attr("transform", `translate(${x(v)},608) scale(1.6,1)`)
    .attr("font-size", 23).attr("text-anchor", "middle");
  t.append("tspan").text(xTickMantissas[i]);
  if (xTickExponents[i]) t.append("tspan").attr("font-size", 15).attr("dy", -10).text(xTickExponents[i]);
});

// axis titles
wideText(svg, 776, 650, 1.5, "Time", 30, "bold", "middle");
svg.append("text")
  .attr("transform", "translate(50,275) scale(1.45,1) rotate(-90)")
  .attr("font-size", 32).attr("text-anchor", "middle").text("Current (amps)");

// legend
const legend = svg.append("g");
legend.append("rect").attr("x", 258).attr("y", 46).attr("width", 205).attr("height", 101)
  .attr("fill", "#fff").attr("stroke", "#000").attr("stroke-width", 1.5);
seriesNames.forEach((name, k) => {
  const cy = 64 + k * 32.5;
  const g = legend.append("g").attr("fill", "none").attr("stroke", colors[name]).attr("stroke-width", 1).attr("opacity", 0.6);
  if (name === "LC1") g.append("rect").attr("x", 311).attr("y", cy - 2.5).attr("width", 6.5).attr("height", 5);
  if (name === "LC2") g.append("ellipse").attr("cx", 314).attr("cy", cy).attr("rx", 4).attr("ry", 2.6);
  if (name === "LC3") g.append("path").attr("d", `M${310},${cy + 2.8} L${314},${cy - 3} L${318},${cy + 2.8} Z`);
  wideText(legend, 377, cy + 9, 1.63, name, 25, "normal", "start");
});

// annotations
const notesG = svg.append("g");
notes.forEach(n => {
  notesG.append("text").attr("x", x(n.t)).attr("y", y(n.i))
    .attr("font-size", 21).attr("textLength", n.w).attr("lengthAdjust", "spacingAndGlyphs").text(n.text);
});
arrows.forEach(a => {
  notesG.append("line")
    .attr("x1", x(a.from[0])).attr("y1", y(a.from[1])).attr("x2", x(a.to[0])).attr("y2", y(a.to[1]))
    .attr("stroke", "#000").attr("stroke-width", 1.2).attr("marker-end", "url(#arrowHead)");
});
</script>
</body>
</html>
